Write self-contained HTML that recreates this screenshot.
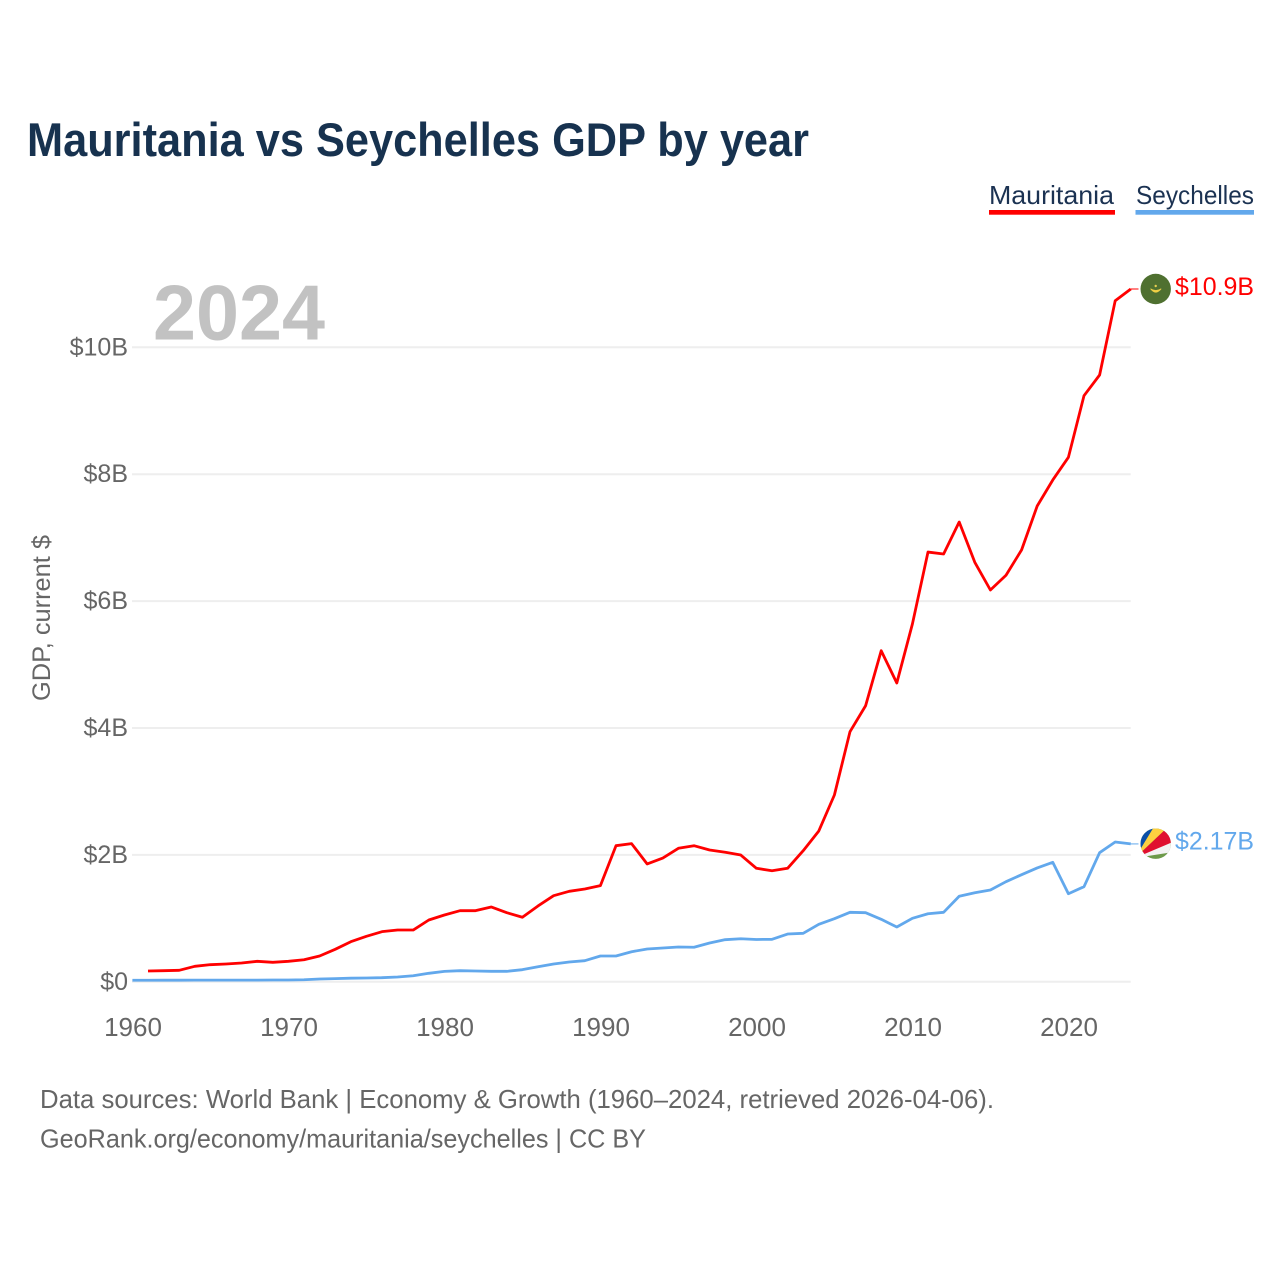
<!DOCTYPE html>
<html lang="en">
<head>
<meta charset="utf-8">
<title>Mauritania vs Seychelles GDP by year</title>
<style>
html,body{margin:0;padding:0;background:#fff;}
svg{display:block;}
text{font-family:"Liberation Sans",sans-serif;}
</style>
</head>
<body>
<svg id="chart" xmlns="http://www.w3.org/2000/svg" width="1280" height="1280" viewBox="0 0 1280 1280">
  <rect x="0" y="0" width="1280" height="1280" fill="#ffffff"/>
  <text x="27" y="156" font-size="47" font-weight="700" fill="#17324f" textLength="782" lengthAdjust="spacingAndGlyphs">Mauritania vs Seychelles GDP by year</text>

  <g>
    <text x="989" y="204" font-size="26" fill="#1b3252" textLength="125" lengthAdjust="spacingAndGlyphs">Mauritania</text>
    <rect x="989" y="210" width="126" height="4.7" fill="#ff0000"/>
  </g>
  <g>
    <text x="1136" y="204" font-size="26" fill="#1b3252" textLength="118" lengthAdjust="spacingAndGlyphs">Seychelles</text>
    <rect x="1135.5" y="210" width="118.5" height="4.7" fill="#62a8ec"/>
  </g>

  <g id="grid"></g>
  <g id="yticks"></g>
  <g id="xticks"></g>
  <text x="153" y="339.5" font-size="78" font-weight="700" fill="#c2c2c2" textLength="172" lengthAdjust="spacingAndGlyphs">2024</text>
  <text transform="translate(50,701) rotate(-90)" font-size="25" fill="#666666" textLength="166" lengthAdjust="spacingAndGlyphs">GDP, current $</text>
  <g id="series"></g>

  <defs>
    <clipPath id="clip-sc"><circle cx="1155.7" cy="843.7" r="15.2"/></clipPath>
  </defs>
  <g>
    <circle cx="1155.7" cy="289" r="15.2" fill="#4f7030"/>
    <path d="M1150.6 288.8 Q1155.7 295.6 1161.2 288.8 Q1155.7 292.2 1150.6 288.8 Z" fill="#f0cf45" stroke="#f0cf45" stroke-width="0.8"/>
    <circle cx="1155.7" cy="286" r="1.2" fill="#e8d050"/>
  </g>
  <g clip-path="url(#clip-sc)">
    <rect x="1135" y="825" width="45" height="38" fill="#6d9a4a"/>
    <polygon points="1135,858 1180,825 1180,851" fill="#f3f3f3"/>
    <polygon points="1135,858 1170,825 1180,825 1180,839" fill="#e0102f"/>
    <polygon points="1135,858 1155,825 1170,825" fill="#fdd040"/>
    <polygon points="1135,858 1135,825 1155,825" fill="#0a4fa8"/>
  </g>

  <text x="1175" y="295" font-size="25" fill="#ff0000" textLength="79" lengthAdjust="spacingAndGlyphs">$10.9B</text>
  <text x="1175" y="849.5" font-size="25" fill="#62a8ec" textLength="79" lengthAdjust="spacingAndGlyphs">$2.17B</text>

  <text x="40" y="1108" font-size="26" fill="#666666" textLength="954" lengthAdjust="spacingAndGlyphs">Data sources: World Bank | Economy &amp; Growth (1960–2024, retrieved 2026-04-06).</text>
  <text x="40" y="1147.5" font-size="26" fill="#666666" textLength="606" lengthAdjust="spacingAndGlyphs">GeoRank.org/economy/mauritania/seychelles | CC BY</text>
</svg>

<script>
var yTickValues = [0, 2, 4, 6, 8, 10];
var yTickLabels = ["$0", "$2B", "$4B", "$6B", "$8B", "$10B"];
var xTickYears = [1960, 1970, 1980, 1990, 2000, 2010, 2020];
var xTickLabels = ["1960", "1970", "1980", "1990", "2000", "2010", "2020"];

var mauritaniaStartYear = 1961;
var mauritaniaGdp = [0.170,0.175,0.181,0.244,0.270,0.281,0.296,0.323,0.307,0.323,
  0.348,0.407,0.512,0.632,0.717,0.790,0.816,0.816,0.974,1.053,
  1.121,1.121,1.179,1.089,1.017,1.195,1.357,1.426,1.463,1.515,
  2.145,2.177,1.857,1.951,2.104,2.145,2.077,2.041,1.998,1.789,
  1.751,1.789,2.066,2.377,2.944,3.942,4.351,5.218,4.709,5.639,
  6.773,6.742,7.246,6.612,6.175,6.407,6.807,7.499,7.909,8.266,
  9.237,9.563,10.734,10.919];

var seychellesStartYear = 1960;
var seychellesGdp = [0.024,0.024,0.025,0.025,0.026,0.026,0.027,0.027,0.027,0.028,0.028,
  0.032,0.044,0.050,0.057,0.060,0.065,0.076,0.096,0.134,0.164,
  0.175,0.170,0.165,0.165,0.191,0.238,0.281,0.312,0.333,0.407,
  0.407,0.474,0.517,0.533,0.548,0.544,0.612,0.664,0.679,0.667,
  0.670,0.753,0.764,0.906,0.994,1.095,1.089,0.985,0.864,1.001,
  1.073,1.095,1.348,1.404,1.447,1.578,1.688,1.794,1.883,1.388,
  1.499,2.035,2.203,2.173];

var NS = "http://www.w3.org/2000/svg";
function xScale(year) { return 132.4 + (year - 1960) * 15.6; }
function yScale(v) { return 981.8 - v * 63.45; }

var grid = document.getElementById("grid");
var yticks = document.getElementById("yticks");
var xticks = document.getElementById("xticks");
var seriesGroup = document.getElementById("series");

yTickValues.forEach(function (v, i) {
  var line = document.createElementNS(NS, "line");
  
  
  line.setAttribute("x1", 132);
  line.setAttribute("x2", 1130.7);
  line.setAttribute("y1", yScale(v));
  line.setAttribute("y2", yScale(v));
  line.setAttribute("stroke", "#eeeeee");
  line.setAttribute("stroke-width", 2);
  grid.appendChild(line);

  var label = document.createElementNS(NS, "text");
  
  
  label.setAttribute("x", 128);
  label.setAttribute("y", yScale(v) + 8);
  label.setAttribute("text-anchor", "end");
  label.setAttribute("font-size", 25);
  label.setAttribute("fill", "#666666");
  label.textContent = yTickLabels[i];
  yticks.appendChild(label);
});

xTickYears.forEach(function (year, i) {
  var label = document.createElementNS(NS, "text");
  
  
  label.setAttribute("x", xScale(year) + 0.6);
  label.setAttribute("y", 1036);
  label.setAttribute("text-anchor", "middle");
  label.setAttribute("font-size", 26);
  label.setAttribute("fill", "#666666");
  label.textContent = xTickLabels[i];
  xticks.appendChild(label);
});

function linePoints(startYear, values) {
  return values.map(function (v, i) {
    return xScale(startYear + i).toFixed(2) + "," + yScale(v).toFixed(2);
  }).join(" ");
}

function connector(startYear, values, color) {
  var last = values.length - 1;
  var line = document.createElementNS(NS, "line");
  
  
  line.setAttribute("x1", xScale(startYear + last));
  line.setAttribute("x2", 1138.5);
  line.setAttribute("y1", yScale(values[last]));
  line.setAttribute("y2", yScale(values[last]));
  line.setAttribute("stroke", color);
  line.setAttribute("stroke-width", 1);
  seriesGroup.appendChild(line);
}

var mauritaniaLine = document.createElementNS(NS, "polyline");


mauritaniaLine.setAttribute("points", linePoints(mauritaniaStartYear, mauritaniaGdp));
mauritaniaLine.setAttribute("fill", "none");
mauritaniaLine.setAttribute("stroke", "#ff0000");
mauritaniaLine.setAttribute("stroke-width", 2.8);
mauritaniaLine.setAttribute("stroke-linejoin", "round");

var seychellesLine = document.createElementNS(NS, "polyline");


seychellesLine.setAttribute("points", linePoints(seychellesStartYear, seychellesGdp));
seychellesLine.setAttribute("fill", "none");
seychellesLine.setAttribute("stroke", "#62a8ec");
seychellesLine.setAttribute("stroke-width", 2.8);
seychellesLine.setAttribute("stroke-linejoin", "round");

seriesGroup.appendChild(mauritaniaLine);
seriesGroup.appendChild(seychellesLine);
connector(mauritaniaStartYear, mauritaniaGdp, "#ff0000");
connector(seychellesStartYear, seychellesGdp, "#62a8ec");
</script>
</body>
</html>
